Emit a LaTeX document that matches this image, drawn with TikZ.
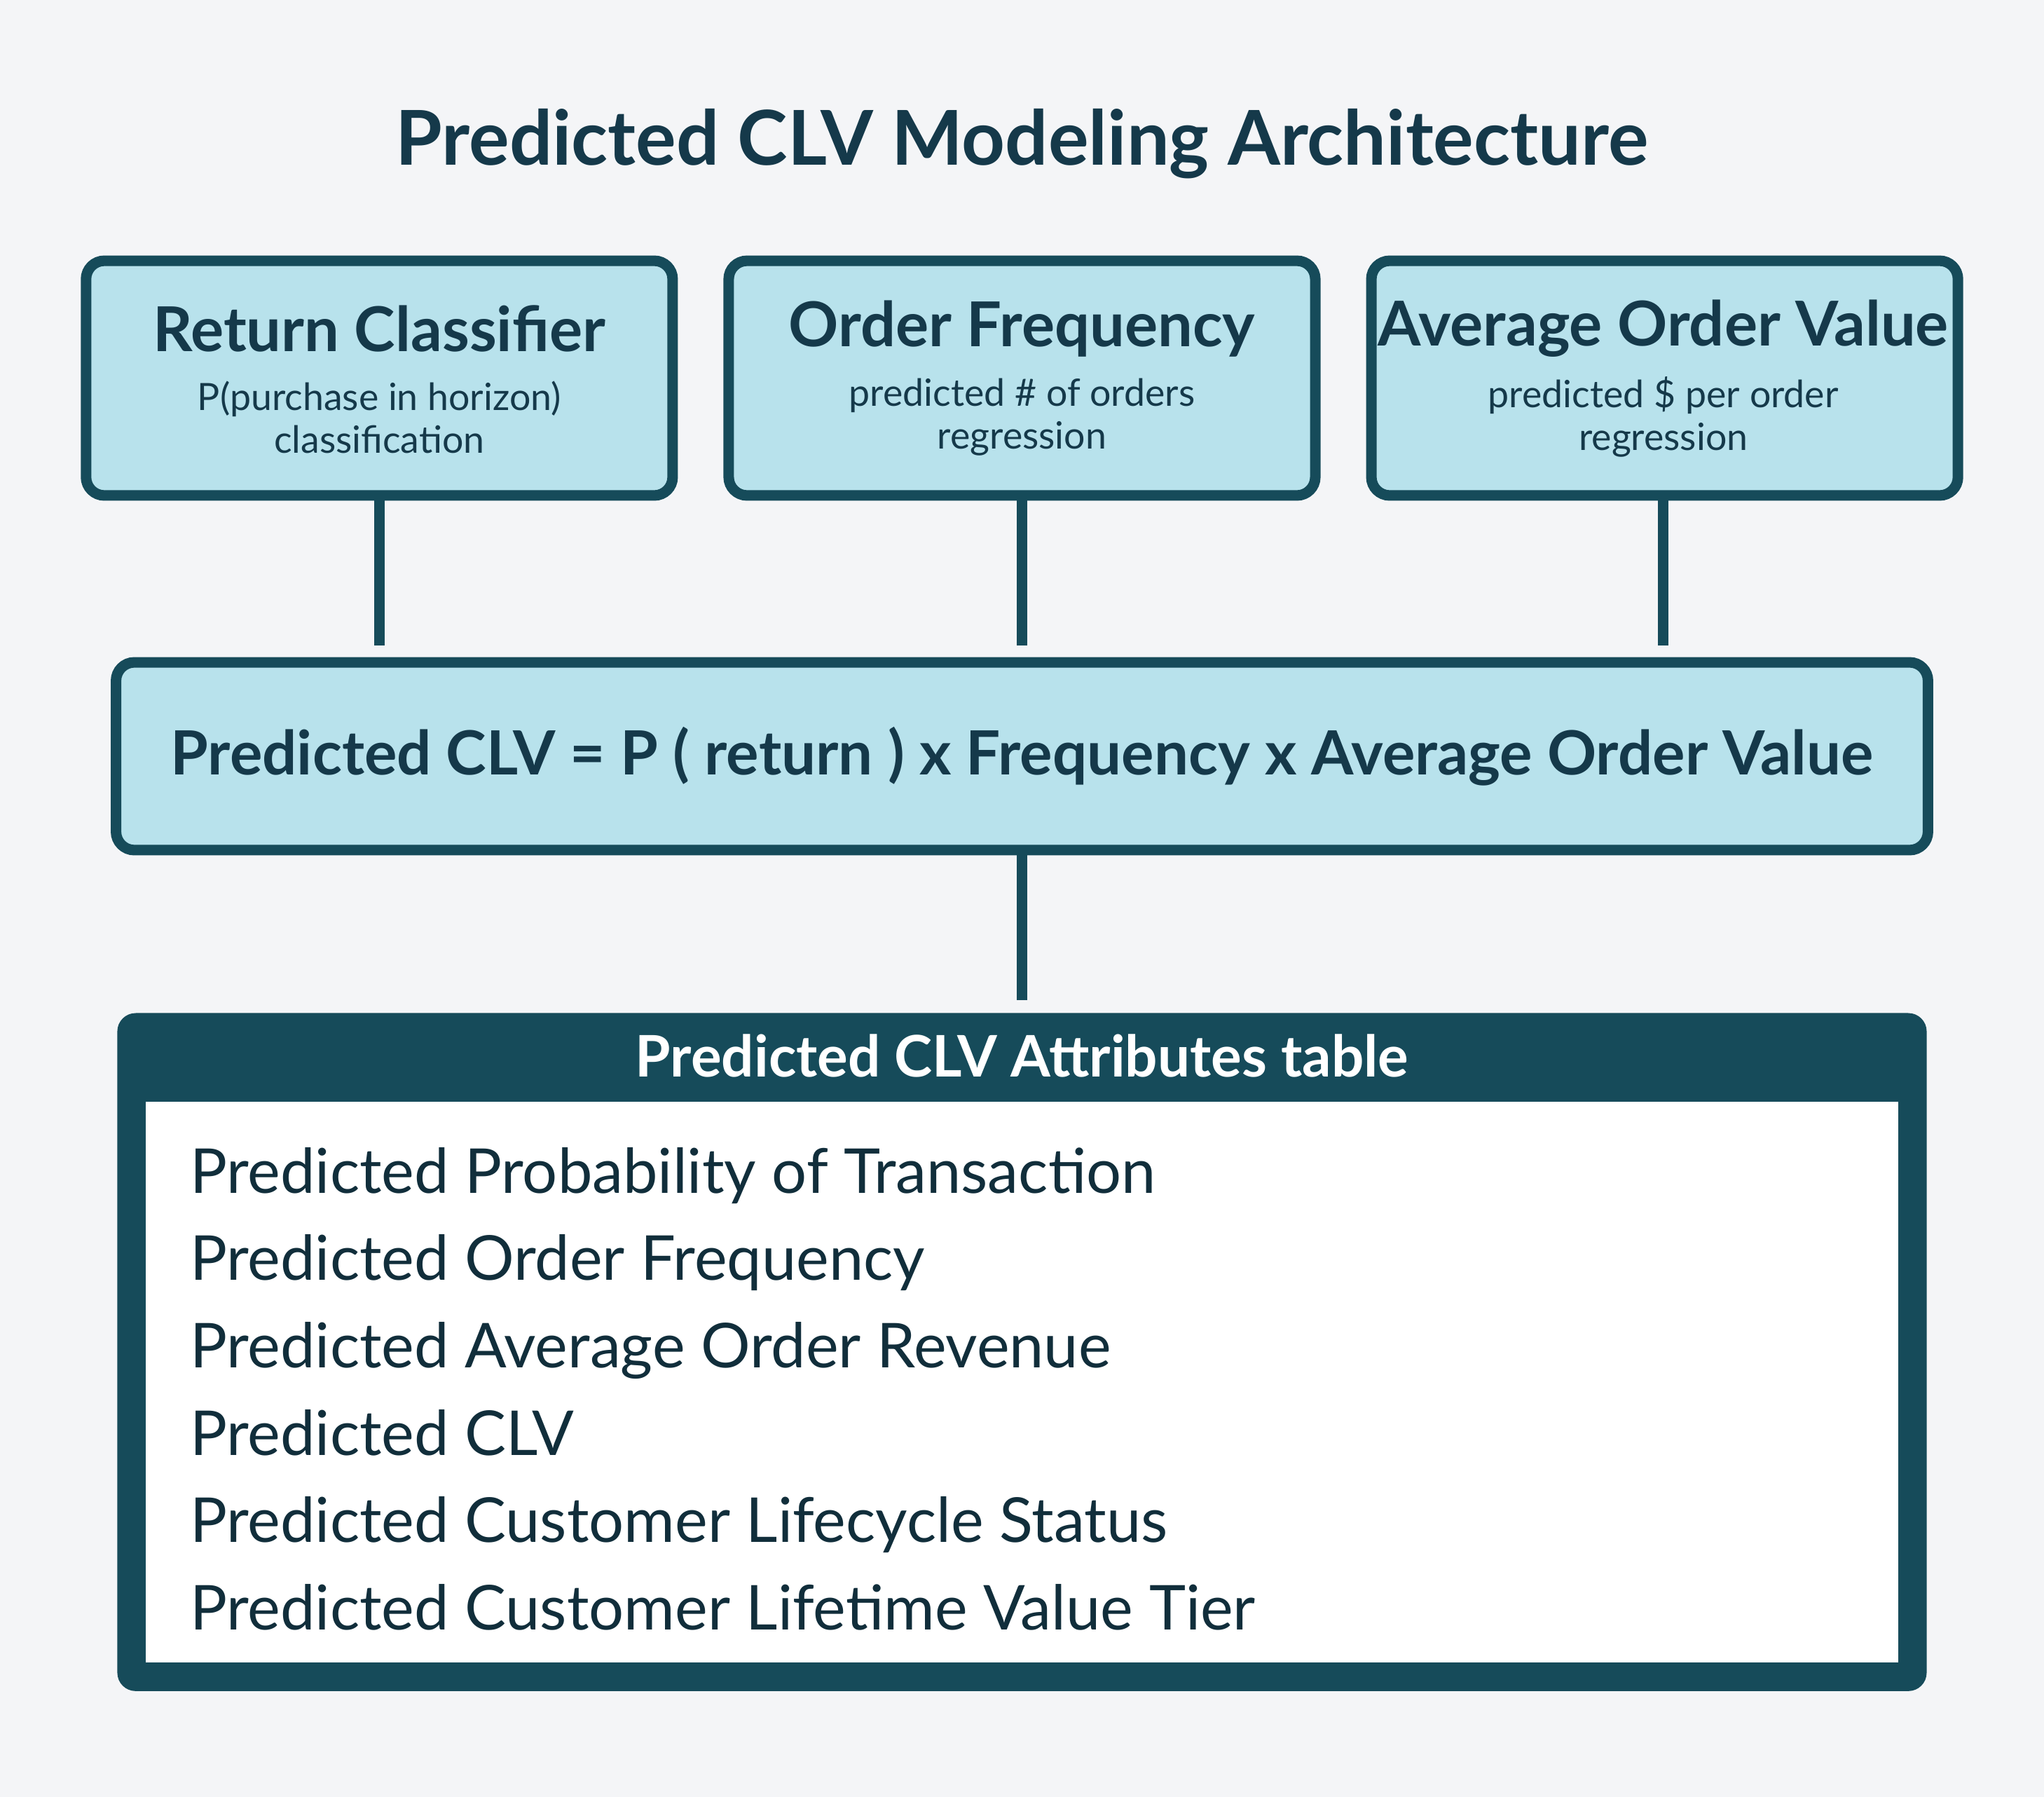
\documentclass[tikz,border=0pt]{standalone}
\usepackage{fontspec}
\setmainfont{Lato}
\definecolor{bgc}{HTML}{F4F5F7}
\definecolor{ink}{HTML}{15394A}
\definecolor{edge}{HTML}{164B5A}
\definecolor{boxfill}{HTML}{B8E2EC}
\tikzset{
  model/.style={draw=edge, line width=2.3pt, fill=boxfill, rounded corners=4pt},
  link/.style={draw=edge, line width=2.3pt},
}
\begin{document}
\begin{tikzpicture}[x=0.01cm,y=-0.01cm]
        \fill[bgc] (0,0) rectangle (1568,1378);
        \useasboundingbox (0,0) rectangle (1568,1378);
        \node[text=ink, font=\fontsize{16.5}{20}\selectfont\bfseries] (title) at (784,110) {Predicted CLV Modeling Architecture};
        % three models
        \draw[model] (66,200) rectangle (516,380);
        \draw[model] (559,200) rectangle (1009,380);
        \draw[model] (1052,200) rectangle (1502,380);
        \node[text=ink, font=\fontsize{13.5}{16}\selectfont\bfseries] (ret) at (291,252) {Return Classifier};
        \node[text=ink, font=\fontsize{13.5}{16}\selectfont\bfseries] (freq) at (784,252) {Order Frequency};
        \node[text=ink, font=\fontsize{13.5}{16}\selectfont\bfseries] (aov) at (1276,252) {Average Order Value};
        \node[text=ink, align=center, font=\fontsize{8.2}{9.3}\selectfont] (retsub) at (291,320) {P(purchase in horizon)\\classification};
        \node[text=ink, align=center, font=\fontsize{8.2}{9.3}\selectfont] (freqsub) at (784,320) {predicted \# of orders\\regression};
        \node[text=ink, align=center, font=\fontsize{8.2}{9.3}\selectfont] (aovsub) at (1276,320) {predicted \$ per order\\regression};
        \coordinate (ra) at (291,380); \coordinate (rb) at (291,495);
        \coordinate (fa) at (784,380); \coordinate (fb) at (784,495);
        \coordinate (aa) at (1276,380); \coordinate (ab) at (1276,495);
        \draw[link] (ra) -- (rb);
        \draw[link] (fa) -- (fb);
        \draw[link] (aa) -- (ab);
        % formula
        \draw[model] (89,508) rectangle (1479,652);
        \node[text=ink, font=\fontsize{13.3}{16}\selectfont\bfseries] (formula) at (784,580) {Predicted CLV = P ( return ) x Frequency x Average Order Value};
        \coordinate (pa) at (784,652); \coordinate (pb) at (784,767);
        \draw[link] (pa) -- (pb);
        % attributes table
        \fill[edge, rounded corners=4pt] (90,777) rectangle (1478,1297);
        \fill[white] (112,845) rectangle (1456,1275);
        \node[text=white, font=\fontsize{12.5}{16}\selectfont\bfseries] (head) at (784,810) {Predicted CLV Attributes table};
        \foreach \t [count=\i] in {Predicted Probability of Transaction, Predicted Order Frequency, Predicted Average Order Revenue, Predicted CLV, Predicted Customer Lifecycle Status, Predicted Customer Lifetime Value Tier}
            \node[anchor=base west, inner sep=0pt, text=ink!80!black, font=\fontsize{13.5}{16}\selectfont] (attr\i) at (145,{915+67*(\i-1)}) {\t};
    \end{tikzpicture}
\end{document}
